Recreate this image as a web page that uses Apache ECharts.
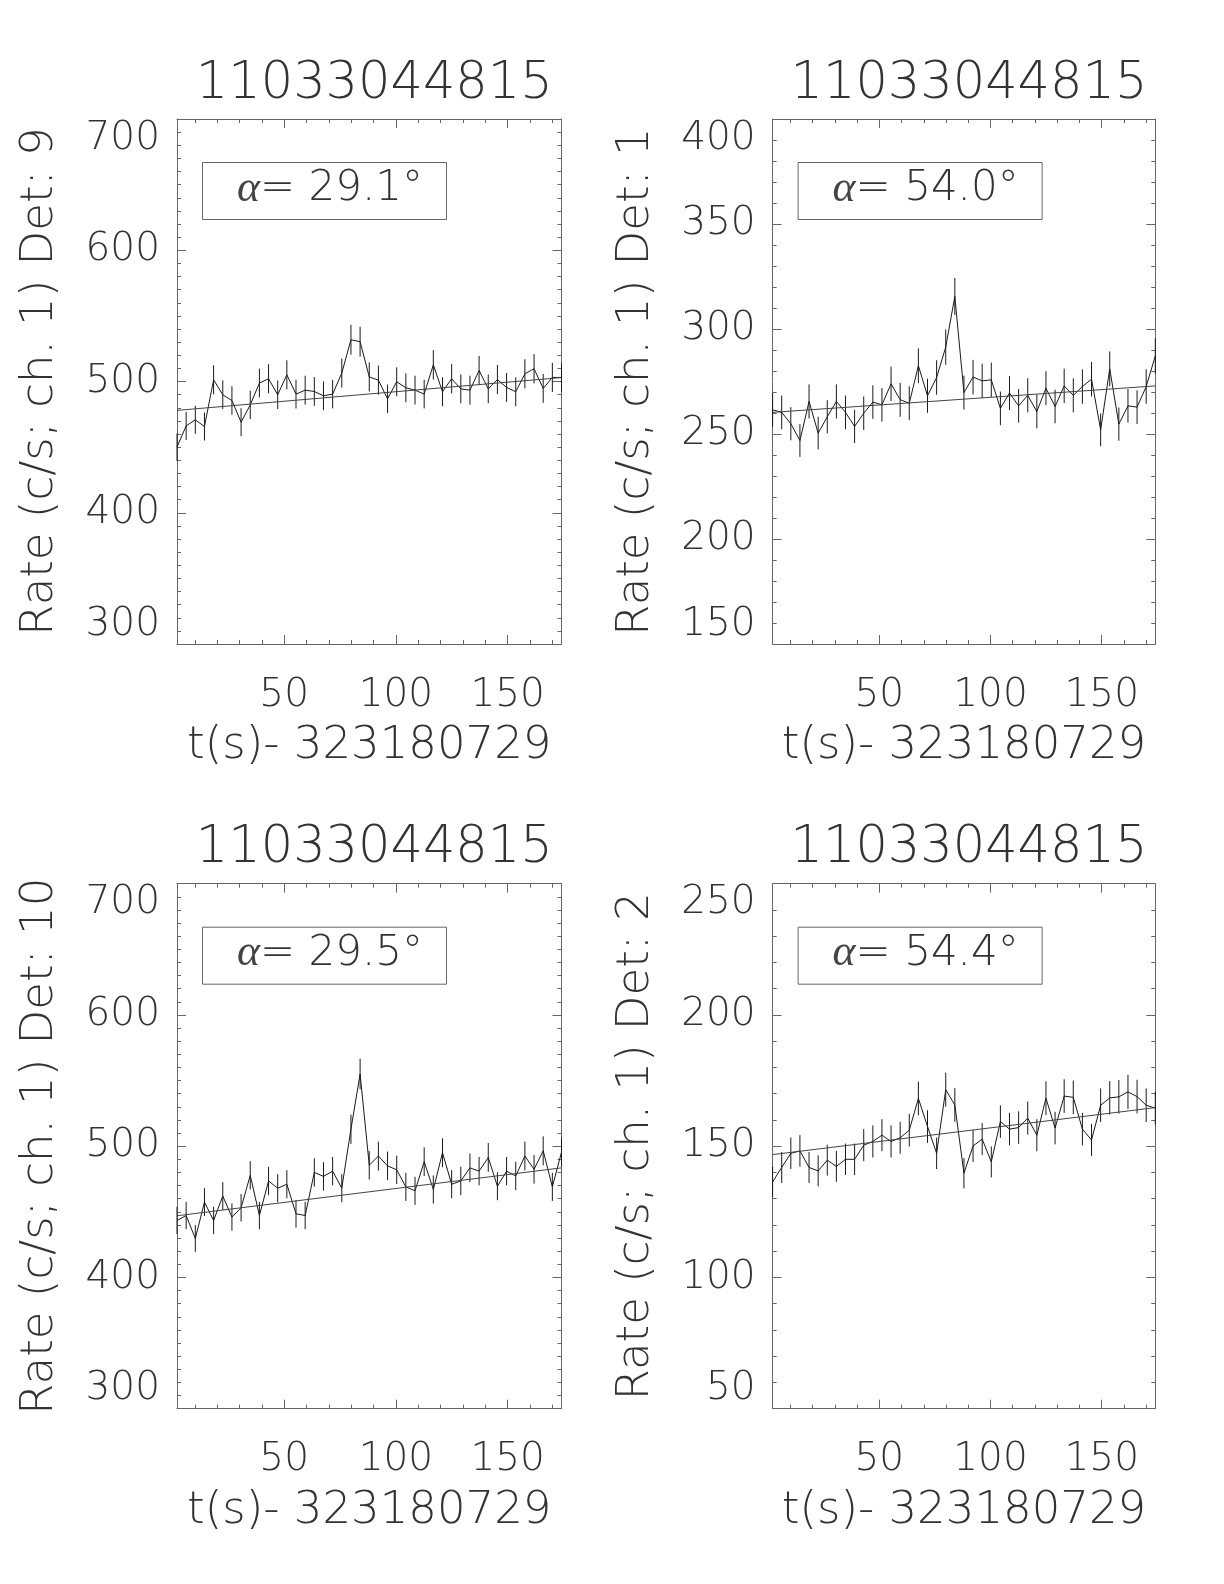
<!DOCTYPE html>
<html>
<head>
<meta charset="utf-8">
<script src="https://cdn.jsdelivr.net/npm/echarts@6/dist/echarts.min.js"></script>
<style>
html,body{margin:0;padding:0;background:#fff;}
#chart{width:1224px;height:1584px;}
</style>
</head>
<body>
<div id="chart"></div>
<script>
// ---------------- data ----------------
const titleText = '11033044815';
const xAxisName = 't(s)- 323180729';
const times = [2.048, 6.144, 10.240, 14.336, 18.432, 22.528, 26.624, 30.720, 34.816, 38.912,
  43.008, 47.104, 51.200, 55.296, 59.392, 63.488, 67.584, 71.680, 75.776, 79.872,
  83.968, 88.064, 92.160, 96.256, 100.352, 104.448, 108.544, 112.640, 116.736, 120.832,
  124.928, 129.024, 133.120, 137.216, 141.312, 145.408, 149.504, 153.600, 157.696, 161.792,
  165.888, 169.984, 174.080];
const xTickLabels = [50, 100, 150];
const xMinorTicks = [10, 20, 30, 40, 50, 60, 70, 80, 90, 100, 110, 120, 130, 140, 150, 160, 170];

const rateDet9 = [450, 466.2, 470.8, 465.7, 501.3, 489.9, 485.5, 469, 482.2, 498.8,
  502.1, 489.9, 505.1, 490.4, 493.4, 492.4, 489.1, 490.4, 506.4, 531.8,
  530.3, 503.5, 501, 486.8, 499.8, 495.2, 493.4, 490.4, 512.7, 492.2,
  502.1, 494.4, 493.4, 508.4, 494.4, 501.5, 495.5, 492.2, 505.9, 509.7,
  494.7, 503.1, 503.1];
const errDet9 = [10.5, 10.7, 10.7, 10.7, 11.1, 10.9, 10.9, 10.7, 10.8, 11.0,
  11.1, 10.9, 11.1, 10.9, 11.0, 11.0, 10.9, 10.9, 11.1, 11.4,
  11.4, 11.1, 11.1, 10.9, 11.0, 11.0, 11.0, 10.9, 11.2, 11.0,
  11.1, 11.0, 11.0, 11.1, 11.0, 11.1, 11.0, 11.0, 11.1, 11.2,
  11.0, 11.1, 11.1];
const fitDet9 = [478, 503];

const rateDet1 = [261.5, 260.3, 254.9, 246.9, 265.5, 250.4, 258.2, 265.5, 260.3, 253.6,
  259.9, 265.2, 263.9, 273.9, 266.3, 264.7, 282.5, 268.2, 276.9, 291.4,
  315.5, 269.7, 277.1, 275.3, 275.8, 262.2, 269.5, 263.4, 268.4, 260.7,
  271.8, 263.1, 272.9, 268.4, 272.6, 276.1, 252, 281, 254.7, 263.4,
  262.8, 272.6, 287.2];
const errDet1 = [8.0, 8.0, 7.9, 7.8, 8.1, 7.8, 7.9, 8.1, 8.0, 7.9,
  8.0, 8.0, 8.0, 8.2, 8.1, 8.0, 8.3, 8.1, 8.2, 8.4,
  8.8, 8.1, 8.2, 8.2, 8.2, 8.0, 8.1, 8.0, 8.1, 8.0,
  8.1, 8.0, 8.2, 8.1, 8.2, 8.2, 7.8, 8.3, 7.9, 8.0,
  8.0, 8.2, 8.4];
const fitDet1 = [260.3, 272.9];

const rateDet10 = [443.4, 447.2, 429.7, 457.4, 443.4, 462, 446, 453.1, 477.8, 447.2,
  473.5, 468, 471, 448.5, 447.2, 480, 477, 481, 468, 513,
  555, 485.5, 492.5, 485, 482, 469, 466, 488.2, 467, 495,
  471, 473.5, 483.5, 481, 491.4, 469.5, 481, 477.3, 492.5, 482.4,
  496.5, 469, 495.5];
const errDet10 = [10.4, 10.4, 10.2, 10.6, 10.4, 10.6, 10.4, 10.5, 10.8, 10.4,
  10.8, 10.7, 10.7, 10.5, 10.4, 10.8, 10.8, 10.8, 10.7, 11.2,
  11.6, 10.9, 11.0, 10.9, 10.8, 10.7, 10.7, 10.9, 10.7, 11.0,
  10.7, 10.8, 10.9, 10.8, 11.0, 10.7, 10.8, 10.8, 11.0, 10.9,
  11.0, 10.7, 11.0];
const fitDet10 = [447, 483.5];

const rateDet2 = [136.4, 141.9, 147.3, 148.2, 141.9, 140.6, 144.7, 142.3, 145, 145,
  150.4, 151.8, 154.2, 151.8, 153.2, 156.1, 168.2, 157.5, 147.3, 171.5,
  165.7, 139.7, 150.1, 152.7, 144, 159.4, 156.5, 157.1, 160.7, 154.2,
  168.3, 156.9, 169.1, 168.6, 156.5, 152.4, 165.6, 168.4, 168.8, 170.7,
  168.9, 165.6, 164.5];
const errDet2 = [5.8, 5.9, 6.0, 6.0, 5.9, 5.9, 5.9, 5.9, 6.0, 6.0,
  6.1, 6.1, 6.1, 6.1, 6.1, 6.2, 6.4, 6.2, 6.0, 6.5,
  6.4, 5.8, 6.1, 6.1, 5.9, 6.2, 6.2, 6.2, 6.3, 6.1,
  6.4, 6.2, 6.4, 6.4, 6.2, 6.1, 6.4, 6.4, 6.4, 6.5,
  6.4, 6.4, 6.3];
const fitDet2 = [146.8, 164.7];

const yLabels = ['Rate (c/s; ch. 1) Det: 9', 'Rate (c/s; ch. 1) Det: 1',
                 'Rate (c/s; ch. 1) Det: 10', 'Rate (c/s; ch. 1) Det: 2'];
const alphaValues = ['29.1', '54.0', '29.5', '54.4'];
const yMins = [300, 150, 300, 50];
const yMaxs = [700, 400, 700, 250];
const yIntervals = [100, 50, 100, 50];

// ---------------- layout / styles ----------------
const rates = [rateDet9, rateDet1, rateDet10, rateDet2];
const errs = [errDet9, errDet1, errDet10, errDet2];
const fits = [fitDet9, fitDet1, fitDet10, fitDet2];
const grids = [
  {left: 177, top: 119, width: 384.5, height: 525},
  {left: 772.6, top: 119, width: 382.7, height: 525},
  {left: 177, top: 883.7, width: 384.5, height: 525},
  {left: 772.6, top: 883.7, width: 382.7, height: 525}
];
const FONT = 'DejaVu Sans';
const TXT = '#333';
const AX = '#666';
const LINE = '#1a1a1a';

const xAxes = [], yAxes = [], series = [], titles = [], graphics = [];
grids.forEach((g, i) => {
  const xmin = times[0], xmax = times[times.length - 1];
  const base = {type: 'value', gridIndex: i, min: xmin, max: xmax, splitLine: {show: false}};
  // bottom major (labels)
  xAxes.push(Object.assign({}, base, {
    position: 'bottom',
    axisLine: {show: true, lineStyle: {color: AX, width: 1}},
    axisTick: {show: true, inside: true, length: 9, customValues: xTickLabels, lineStyle: {color: AX}},
    axisLabel: {show: true, customValues: xTickLabels, margin: 32, fontSize: 39, fontFamily: FONT, fontWeight: 200, color: TXT},
    name: xAxisName, nameLocation: 'middle', nameGap: 80,
    nameTextStyle: {fontSize: 45, fontFamily: FONT, fontWeight: 200, color: TXT}
  }));
  const mainX = xAxes.length - 1;
  // bottom minor
  xAxes.push(Object.assign({}, base, {
    position: 'bottom', axisLine: {show: false},
    axisTick: {show: true, inside: true, length: 4, customValues: xMinorTicks, lineStyle: {color: AX}},
    axisLabel: {show: false}
  }));
  // top major
  xAxes.push(Object.assign({}, base, {
    position: 'top',
    axisLine: {show: true, lineStyle: {color: AX, width: 1}},
    axisTick: {show: true, inside: true, length: 9, customValues: xTickLabels, lineStyle: {color: AX}},
    axisLabel: {show: false}
  }));
  // top minor
  xAxes.push(Object.assign({}, base, {
    position: 'top', axisLine: {show: false},
    axisTick: {show: true, inside: true, length: 4, customValues: xMinorTicks, lineStyle: {color: AX}},
    axisLabel: {show: false}
  }));

  const ybase = {type: 'value', gridIndex: i, min: yMins[i], max: yMaxs[i], interval: yIntervals[i],
    splitLine: {show: false}, minorSplitLine: {show: false},
    axisLine: {show: true, lineStyle: {color: AX, width: 1}},
    axisTick: {show: true, inside: true, length: 9, lineStyle: {color: AX}},
    minorTick: {show: true, splitNumber: yIntervals[i] / 10, length: 4, lineStyle: {color: AX}}};
  yAxes.push(Object.assign({}, ybase, {
    position: 'left',
    axisLabel: {show: true, margin: 17, fontSize: 39, fontFamily: FONT, fontWeight: 200, color: TXT,
      verticalAlignMinLabel: 'bottom', verticalAlignMaxLabel: 'top'},
    name: yLabels[i], nameLocation: 'middle', nameGap: 114, nameRotate: 90,
    nameTextStyle: {fontSize: 45, fontFamily: FONT, fontWeight: 200, color: TXT}
  }));
  const mainY = yAxes.length - 1;
  yAxes.push(Object.assign({}, ybase, {position: 'right', axisLabel: {show: false}}));

  // series: data line
  series.push({
    type: 'line', xAxisIndex: mainX, yAxisIndex: mainY, symbol: 'none', animation: false,
    lineStyle: {color: LINE, width: 1},
    data: times.map((t, k) => [t, rates[i][k]])
  });
  // error bars
  series.push({
    type: 'custom', xAxisIndex: mainX, yAxisIndex: mainY, animation: false,
    encode: {x: 0, y: [1, 2]},
    data: times.map((t, k) => [t, rates[i][k] - errs[i][k], rates[i][k] + errs[i][k]]),
    renderItem: function (params, api) {
      const p1 = api.coord([api.value(0), api.value(1)]);
      const p2 = api.coord([api.value(0), api.value(2)]);
      return {type: 'line', shape: {x1: p1[0], y1: p1[1], x2: p2[0], y2: p2[1]},
        style: {stroke: LINE, lineWidth: 1}};
    }
  });
  // fit line
  series.push({
    type: 'line', xAxisIndex: mainX, yAxisIndex: mainY, symbol: 'none', animation: false,
    lineStyle: {color: '#444', width: 1},
    data: [[times[0], fits[i][0]], [times[times.length - 1], fits[i][1]]]
  });

  titles.push({
    text: titleText, left: g.left + g.width / 2, top: g.top - 65, textAlign: 'center',
    textStyle: {fontSize: 51, fontFamily: FONT, fontWeight: 200, color: TXT}
  });

  const bx = g.left + 23, by = g.top + 41;
  graphics.push({
    type: 'rect', left: bx, top: by, shape: {width: 244, height: 57},
    style: {fill: 'none', stroke: AX, lineWidth: 1}
  });
  graphics.push({
    type: 'text', x: bx + 130, y: by + 29,
    style: {
      text: '{a|α}= ' + alphaValues[i] + '°',
      align: 'center', verticalAlign: 'middle',
      fontSize: 42, fontFamily: FONT, fontWeight: 200, fill: TXT,
      rich: {a: {fontSize: 44, fontFamily: 'Liberation Serif', fontStyle: 'italic', fontWeight: 'normal', fill: '#444'}}
    }
  });
});

const chart = echarts.init(document.getElementById('chart'), null, {renderer: 'canvas'});
chart.setOption({
  backgroundColor: '#ffffff',
  animation: false,
  title: titles,
  grid: grids,
  xAxis: xAxes,
  yAxis: yAxes,
  series: series,
  graphic: graphics
});
</script>
</body>
</html>
